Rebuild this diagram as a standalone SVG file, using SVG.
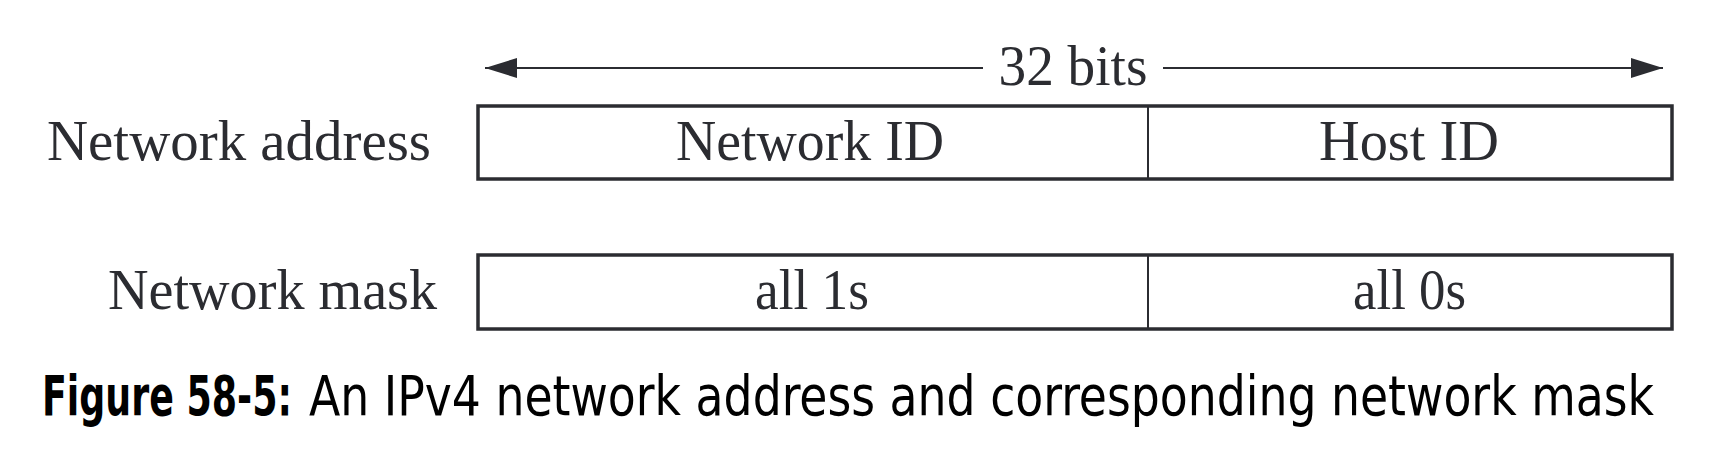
<svg xmlns="http://www.w3.org/2000/svg" width="1726" height="456" viewBox="0 0 1726 456">
<style>
.lbl{font-family:"Liberation Serif","Times New Roman",serif;font-size:57px;fill:#2b2c31}
.cell{fill:#fff;stroke:#2b2c31;stroke-width:3.5}
.div{stroke:#2b2c31;stroke-width:2}
.conn{stroke:#2b2c31;stroke-width:2;fill:none}
.cap{font-family:"DejaVu Sans Condensed","DejaVu Sans","Noto Sans",sans-serif;font-stretch:condensed;font-size:56px;fill:#000}
</style>
<defs>
<marker id="ah" viewBox="0 0 32 20" refX="32" refY="10" markerWidth="32" markerHeight="20" markerUnits="userSpaceOnUse" orient="auto-start-reverse">
<path d="M0,0 L32,10 L0,20 Z" fill="#2b2c31"/>
</marker>
</defs>
<g id="connectors">
<line class="conn" x1="983" y1="68" x2="485" y2="68" marker-end="url(#ah)"/>
<line class="conn" x1="1163" y1="68" x2="1663" y2="68" marker-end="url(#ah)"/>
<text class="lbl" x="1073" y="85" text-anchor="middle" textLength="149" lengthAdjust="spacingAndGlyphs">32 bits</text>
</g>
<g id="row-address">
<text class="lbl" x="47" y="160" textLength="384" lengthAdjust="spacingAndGlyphs">Network address</text>
<rect class="cell" x="478" y="106" width="1194" height="73"/>
<line class="div" x1="1148" y1="106" x2="1148" y2="179"/>
<text class="lbl" x="676" y="160" textLength="268" lengthAdjust="spacingAndGlyphs">Network ID</text>
<text class="lbl" x="1319" y="160" textLength="180" lengthAdjust="spacingAndGlyphs">Host ID</text>
</g>
<g id="row-mask">
<text class="lbl" x="108" y="309" textLength="329" lengthAdjust="spacingAndGlyphs">Network mask</text>
<rect class="cell" x="478" y="255" width="1194" height="74"/>
<line class="div" x1="1148" y1="255" x2="1148" y2="329"/>
<text class="lbl" x="755" y="309" textLength="114" lengthAdjust="spacingAndGlyphs">all 1s</text>
<text class="lbl" x="1353" y="309" textLength="113" lengthAdjust="spacingAndGlyphs">all 0s</text>
</g>
<g id="caption" transform="translate(42 0) scale(0.8 1)">
<text class="cap" x="0" y="415"><tspan font-weight="bold" textLength="312.5" lengthAdjust="spacingAndGlyphs">Figure 58-5:</tspan><tspan x="333.75" textLength="1681.25" lengthAdjust="spacingAndGlyphs">An IPv4 network address and corresponding network mask</tspan></text>
</g>
</svg>
